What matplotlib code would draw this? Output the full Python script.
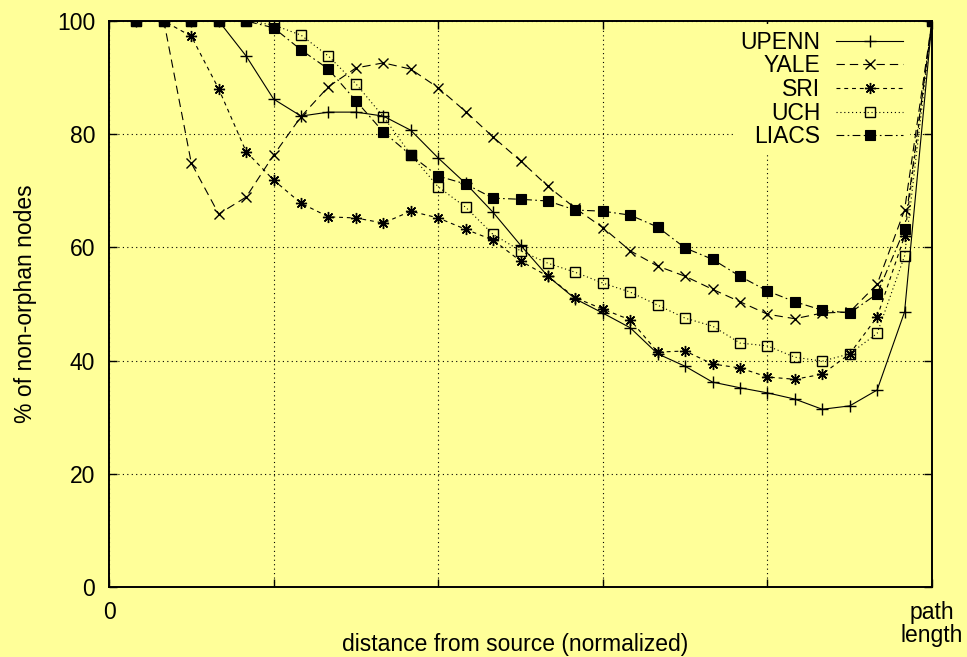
import numpy as np
import matplotlib
matplotlib.use('Agg')
import matplotlib.pyplot as plt

plt.rcParams['font.family'] = ['Liberation Sans', 'DejaVu Sans']

BG = '#ffff99'
FS = 16.5

# hop index along the path, normalised to [0, 1] by the 30 sample points
hops = np.arange(1, 31)
dist = hops / 30.0

UPENN = [100, 100, 100, 100, 93.8, 86.2, 83.2, 83.9, 83.9, 83.2,
         80.7, 75.8, 71.3, 66.2, 60.4, 54.9, 50.9, 48.4, 45.8, 41.2,
         39.0, 36.2, 35.2, 34.3, 33.2, 31.4, 32.0, 34.8, 48.6, 100]
YALE = [100, 100, 74.9, 65.9, 68.9, 76.3, 83.1, 88.4, 91.7, 92.6,
        91.5, 88.2, 84.0, 79.5, 75.3, 70.8, 66.9, 63.5, 59.4, 56.7,
        54.9, 52.6, 50.4, 48.2, 47.4, 48.4, 48.6, 53.5, 66.6, 100]
SRI = [100, 100, 97.3, 88.0, 76.9, 71.9, 67.8, 65.4, 65.2, 64.3,
       66.4, 65.2, 63.2, 61.3, 57.6, 54.9, 51.1, 49.1, 47.2, 41.5,
       41.7, 39.4, 38.7, 37.1, 36.7, 37.6, 41.2, 47.7, 62.0, 100]
UCH = [100, 100, 100, 100, 100, 99.3, 97.5, 93.8, 88.9, 83.1,
       76.4, 70.7, 67.1, 62.3, 59.4, 57.2, 55.6, 53.7, 52.1, 49.8,
       47.5, 46.1, 43.1, 42.6, 40.6, 39.9, 41.2, 44.8, 58.5, 100]
LIACS = [100, 100, 100, 100, 100, 98.8, 94.9, 91.5, 85.9, 80.4,
         76.3, 72.6, 71.2, 68.7, 68.5, 68.2, 66.6, 66.4, 65.7, 63.6,
         59.9, 57.9, 54.9, 52.3, 50.4, 48.9, 48.4, 51.8, 63.2, 100]

x_ticks = [0, 0.2, 0.4, 0.6, 0.8, 1.0]
x_ticklabels = ['0', '', '', '', '', 'path\nlength']
y_ticks = [0, 20, 40, 60, 80, 100]

series = [
    ('UPENN', UPENN, dict(linestyle='-', marker='+', ms=8, mew=1.0)),
    ('YALE', YALE, dict(linestyle=(0, (7.5, 4.5)), marker='x', ms=7.5, mew=1.0)),
    ('SRI', SRI, dict(linestyle=(0, (3.5, 3.5)), marker=(8, 2, 0), ms=8, mew=1.0)),
    ('UCH', UCH, dict(linestyle=(0, (1, 2.5)), marker='s', ms=7, mew=1.0, mfc='none')),
    ('LIACS', LIACS, dict(linestyle=(0, (7, 3, 1.5, 3)), marker='s', ms=7, mew=0.8)),
]

fig = plt.figure(figsize=(9.67, 6.57), dpi=100, facecolor=BG)
ax = fig.add_axes([109 / 967, 1 - 587 / 657, 823 / 967, 566 / 657])
ax.set_facecolor(BG)

for name, vals, style in series:
    ax.plot(dist, vals, color='black', lw=0.8, label=name, mec='black', **style)

ax.set_xlim(0, 1)
ax.set_ylim(0, 100)
ax.set_xticks(x_ticks)
ax.set_xticklabels(x_ticklabels, fontsize=FS, linespacing=1.0)
ax.set_yticks(y_ticks)
ax.tick_params(axis='y', labelsize=FS)
ax.tick_params(direction='in', length=6, width=1.0, top=True, right=True, pad=10)
ax.grid(True, color='black', linestyle=(0, (1, 3)), lw=0.8)
for sp in ax.spines.values():
    sp.set_linewidth(1.4)

ax.set_xlabel('distance from source (normalized)', fontsize=FS, va='baseline')
ax.xaxis.set_label_coords(0.493, -0.113)
ax.set_ylabel('% of non-orphan nodes', fontsize=FS, labelpad=14)

leg = ax.legend(loc='upper right', bbox_to_anchor=(0.973, 0.995), fontsize=FS,
                markerfirst=False, handlelength=2.9, handletextpad=0.7,
                labelspacing=0.03, borderpad=0.3, borderaxespad=0,
                fancybox=False, framealpha=1)
leg.get_frame().set_facecolor(BG)
leg.get_frame().set_edgecolor('none')

fig.savefig('out.png', dpi=100, facecolor=BG)
